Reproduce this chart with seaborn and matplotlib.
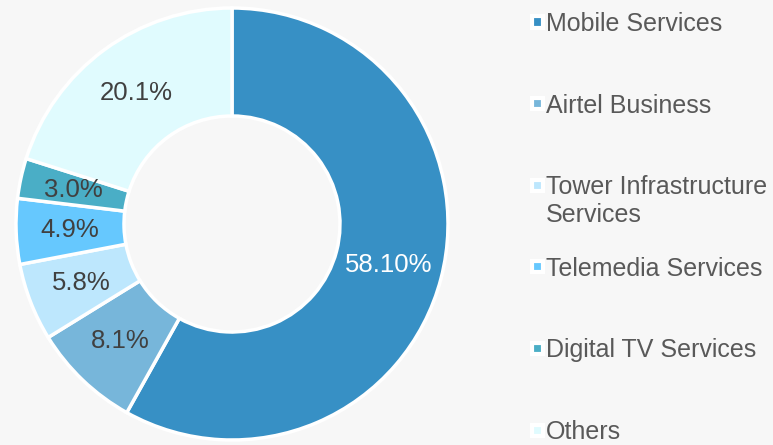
import numpy as np
import matplotlib.pyplot as plt
import seaborn as sns
from matplotlib.patches import Rectangle

# Revenue share by segment
segments = ["Mobile Services", "Airtel Business", "Tower Infrastructure\nServices",
            "Telemedia Services", "Digital TV Services", "Others"]
shares = [58.10, 8.1, 5.8, 4.9, 3.0, 20.1]
share_labels = ["58.10%", "8.1%", "5.8%", "4.9%", "3.0%", "20.1%"]
colors = ["#3790c5", "#77b6da", "#bde7fd", "#66c8fe", "#4aaec6", "#e0fbfe"]

BG = "#f7f7f7"
sns.set_theme(style="white", rc={"figure.facecolor": BG, "axes.facecolor": BG})
plt.rcParams['font.family'] = ['Liberation Sans', 'DejaVu Sans']

W, H = 773, 445
fig = plt.figure(figsize=(W / 100, H / 100), dpi=100)
ax = fig.add_axes([16 / W, 5 / H, 432 / W, 432 / H])

palette = sns.color_palette(colors)
wedges, _ = ax.pie(shares, colors=palette, startangle=90, counterclock=False,
                   radius=1, wedgeprops=dict(width=0.5, edgecolor='white', linewidth=2.5))
for w in wedges:
    w.set_clip_on(False)

# percent labels in the middle of each ring segment
for i, (w, txt) in enumerate(zip(wedges, share_labels)):
    ang = np.deg2rad((w.theta1 + w.theta2) / 2)
    col = 'white' if i == 0 else '#404040'
    ax.text(0.75 * np.cos(ang), 0.75 * np.sin(ang), txt, ha='center', va='center',
            fontsize=18.5, color=col)
ax.set_xlim(-1, 1)
ax.set_ylim(-1, 1)
ax.axis('off')

# legend on the right, fixed row spacing
for i, (lab, c) in enumerate(zip(segments, palette)):
    yc = 22 + i * 81.6
    fig.add_artist(Rectangle((532 / W, 1 - (yc + 5.5) / H), 11 / W, 11 / H,
                             transform=fig.transFigure, facecolor=c,
                             edgecolor='white', linewidth=3))
    fig.text(546 / W, 1 - (yc - 10) / H, lab, ha='left', va='top', fontsize=18,
             color='#595959', linespacing=1.2)

fig.savefig("out.png", dpi=100, facecolor=BG)
